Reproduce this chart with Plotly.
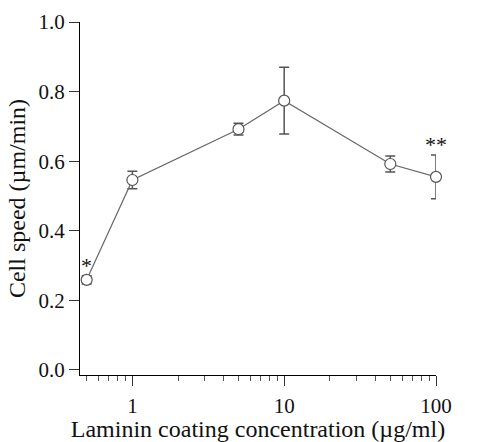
import math
import plotly.graph_objects as go

conc = [0.5, 1, 5, 10, 50, 100]
speed = [0.259, 0.546, 0.692, 0.774, 0.592, 0.555]
err = [0.012, 0.025, 0.017, 0.096, 0.023, 0.063]
sig_labels = ["*", "", "", "", "", "**"]

x_major = [1, 10, 100]
x_minor = [0.5, 0.6, 0.7, 0.8, 0.9, 2, 3, 4, 5, 6, 7, 8, 9, 20, 30, 40, 50, 60, 70, 80, 90]
y_ticks = [0.0, 0.2, 0.4, 0.6, 0.8, 1.0]
y_ticklabels = ["0.0", "0.2", "0.4", "0.6", "0.8", "1.0"]

font_family = "Liberation Serif"

fig = go.Figure()
fig.add_trace(go.Scatter(
    x=conc, y=speed, mode="lines+markers",
    line=dict(color="#666666", width=1.2),
    marker=dict(symbol="circle", size=11, color="white",
                line=dict(color="#555555", width=1.2)),
    error_y=dict(type="data", array=err, visible=True, color="#555555",
                 thickness=1.5, width=5),
    cliponaxis=False,
    showlegend=False,
))

for x, y, e, s in zip(conc, speed, err, sig_labels):
    if s:
        fig.add_annotation(x=math.log10(x), y=y + e, xref="x", yref="y", text=s,
                           showarrow=False, yanchor="bottom", yshift=-4,
                           font=dict(family=font_family, size=22, color="#111"))

fig.update_layout(
    width=480, height=442,
    margin=dict(l=80, r=44, t=22, b=67),
    paper_bgcolor="white", plot_bgcolor="white",
    font=dict(family=font_family, size=21, color="#111"),
    xaxis=dict(
        type="log", range=[-0.345, 2.0],
        tickvals=x_major, ticktext=["1", "10", "100"],
        ticks="outside", ticklen=10, tickwidth=1, tickcolor="#333",
        minor=dict(tickvals=x_minor, ticks="outside", ticklen=5, tickcolor="#555", tickwidth=1),
        showline=True, linecolor="black", linewidth=1.2,
        showgrid=False, zeroline=False, automargin=False,
        ticklabelstandoff=2,
        title=dict(text="Laminin coating concentration (µg/ml)", standoff=3,
                   font=dict(family=font_family, size=24)),
        tickfont=dict(family=font_family, size=21),
    ),
    yaxis=dict(
        range=[-0.0144, 1.0],
        tickvals=y_ticks, ticktext=y_ticklabels,
        ticks="outside", ticklen=10, tickwidth=1, tickcolor="#333",
        showline=True, linecolor="black", linewidth=1.2,
        showgrid=False, zeroline=False, automargin=False,
        title=dict(text="Cell speed (µm/min)", standoff=6,
                   font=dict(family=font_family, size=24)),
        tickfont=dict(family=font_family, size=21),
    ),
)

fig.write_html("out.html")
